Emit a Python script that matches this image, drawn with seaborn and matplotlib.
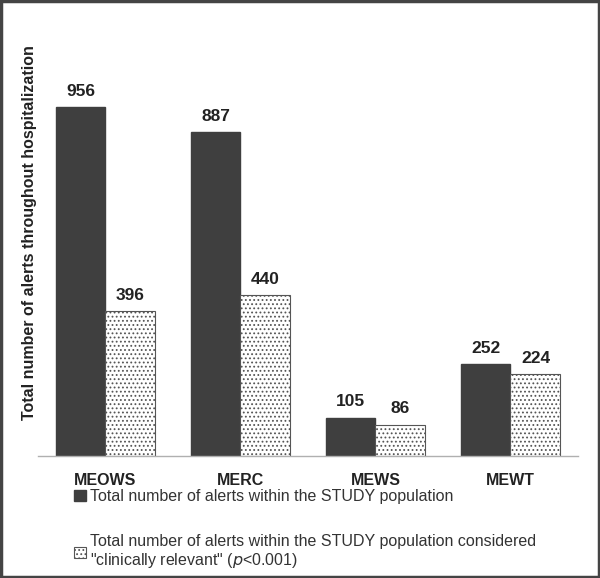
import pandas as pd
import matplotlib.pyplot as plt
import seaborn as sns
from matplotlib.patches import Rectangle

scores = ["MEOWS", "MERC", "MEWS", "MEWT"]
total_alerts = [956, 887, 105, 252]
relevant_alerts = [396, 440, 86, 224]
series_names = ["Total number of alerts within the STUDY population",
                "Total number of alerts within the STUDY population considered\n\"clinically relevant\" ($\\it{p}$<0.001)"]

df = pd.DataFrame({
    "score": scores * 2,
    "alerts": total_alerts + relevant_alerts,
    "series": [series_names[0]] * 4 + [series_names[1]] * 4,
})

sns.set_style("white")
plt.rcParams['font.family'] = ['Liberation Sans', 'DejaVu Sans']
plt.rcParams['hatch.color'] = '#8a8a8a'
plt.rcParams['hatch.linewidth'] = 0.8

fig = plt.figure(figsize=(6, 5.78), dpi=100)
ax = fig.add_axes([0.0633, 0.211, 0.9, 0.695])

sns.barplot(data=df, x="score", y="alerts", hue="series", ax=ax,
            palette=["#3f3f3f", "white"], width=0.74, saturation=1, legend=False)

n = len(scores)
for i, p in enumerate(ax.patches[:2 * n]):
    if i >= n:
        p.set_hatch("....")
        p.set_edgecolor("#555555")
        p.set_linewidth(0.8)
    else:
        p.set_edgecolor("#3f3f3f")

for c in ax.containers:
    ax.bar_label(c, padding=6, fontsize=12.5, fontweight='bold', color='#222222')

ax.set_ylim(0, 1100)
ax.set_xlim(-0.5, 3.5)
ax.set_yticks([])
ax.set_xlabel("")
ax.set_ylabel("")
for s in ["top", "right", "left"]:
    ax.spines[s].set_visible(False)
ax.spines["bottom"].set_color("#b0b0b0")
ax.spines["bottom"].set_linewidth(1)
ax.tick_params(axis='x', length=0, pad=12)
for t in ax.get_xticklabels():
    t.set_fontsize(11.5)
    t.set_fontweight('bold')
    t.set_color('#222222')

fig.text(30 / 600, 0.598, "Total number of alerts throughout hospitalization",
         rotation=90, ha='center', va='center', fontsize=11.5,
         fontweight='bold', color='#222222')

handles = [Rectangle((0, 0), 1, 1, facecolor='#3f3f3f', edgecolor='#3f3f3f'),
           Rectangle((0, 0), 1, 1, facecolor='white', edgecolor='#555555',
                     hatch='....', linewidth=0.8)]
leg = fig.legend(handles, series_names, loc='upper left', bbox_to_anchor=(0.112, 0.165),
                 frameon=False, fontsize=11.5, handlelength=0.75, handleheight=0.75,
                 handletextpad=0.3, labelspacing=1.85, borderaxespad=0)
for t in leg.get_texts():
    t.set_color('#333333')

fig.patches.append(Rectangle((0.002, 0.002), 0.996, 0.996, transform=fig.transFigure,
                             fill=False, edgecolor='#444444', linewidth=2.5))

fig.savefig("out.png", dpi=100)
